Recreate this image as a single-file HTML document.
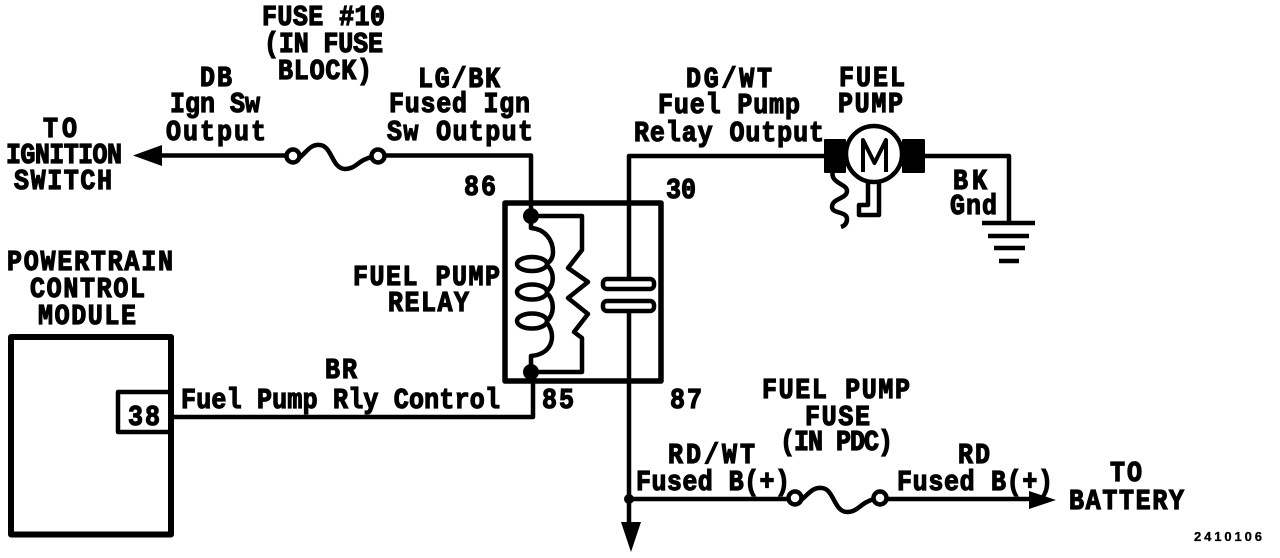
<!DOCTYPE html>
<html><head><meta charset="utf-8"><style>
html,body{margin:0;padding:0;background:#fff;width:1280px;height:558px;overflow:hidden}
svg{display:block}
text{font-family:"Liberation Mono",monospace;font-weight:bold;font-size:25px;fill:#000;stroke:#000;stroke-width:1.1px}
.w{fill:none;stroke:#000;stroke-width:4.5;stroke-linejoin:round}
</style></head><body>
<svg width="1280" height="558" viewBox="0 0 1280 558" xmlns="http://www.w3.org/2000/svg">
<rect width="1280" height="558" fill="#fff"/>
<!-- wires -->
<path class="w" d="M160 155.500H288M384 155.500H531V216"/>
<path class="w" d="M629 279V156H830"/>
<path class="w" d="M629 312V525M629 499H788M886 499H1032"/>
<path class="w" d="M920 156H1009V223"/>
<path class="w" d="M171 417H533V372"/>
<!-- arrows -->
<path d="M133 155.500L162 145V166Z"/>
<path d="M1056 500L1029 491V509Z"/>
<path d="M631 552L621 522H641Z"/>
<circle cx="629" cy="499" r="5"/>
<!-- fuses -->
<circle class="w" cx="293" cy="156" r="6.500"/>
<circle class="w" cx="378" cy="156" r="6.500"/>
<path class="w" d="M299 158C307 152 310 144 320 145C332 146 332 169 345 169C356 169 358 160 372 157"/>
<circle class="w" cx="795" cy="498" r="6.500"/>
<circle class="w" cx="880" cy="498" r="6.500"/>
<path class="w" d="M801 500C809 494 812 487 822 488C834 489 834 512 847 512C858 512 860 503 874 499"/>
<!-- relay -->
<rect x="505" y="203" width="156" height="178" class="w" style="stroke-width:5.500"/>
<circle cx="531" cy="216" r="8"/>
<circle cx="531" cy="372" r="8"/>
<path class="w" d="M531 216H582V250L568 268L588 282L568 298L588 314L574 332L582 338V372H531"/>
<path class="w" d="M531 216V228C545 229 553 240 553 252C553 258 550 262 546 264"/>
<ellipse class="w" cx="532" cy="264" rx="15" ry="7"/>
<path class="w" d="M546 264C555 272 555 285 546 292"/>
<ellipse class="w" cx="532" cy="292" rx="15" ry="7.500"/>
<path class="w" d="M546 292C555 300 555 314 546 322"/>
<ellipse class="w" cx="532" cy="321" rx="15" ry="7.500"/>
<path class="w" d="M546 322C556 332 555 354 531 356V372"/>
<rect class="w" x="603" y="279" width="51" height="10" rx="4"/>
<rect class="w" x="603" y="301" width="51" height="10" rx="4"/>
<!-- motor -->
<path class="w" d="M868 180V205H859V215H879V180"/>
<path class="w" d="M833 170C829 184 847 183 847 191C847 199 832 198 832 207C832 214 847 211 847 219C847 224 844 226 841 227"/>
<rect x="824" y="139" width="22" height="34" rx="1"/>
<rect x="902" y="139" width="23" height="34" rx="1"/>
<circle class="w" cx="874" cy="154" r="28" style="fill:#fff"/>
<path class="w" d="M863 172V140L874.500 163L886 140V172" style="stroke-width:4"/>
<!-- ground -->
<path class="w" d="M982 223H1035M988 236H1029M994 248H1025M999 261H1019"/>
<!-- PCM -->
<path class="w" d="M11 337V534.500H171V337H11Z" style="stroke-width:6"/>
<rect class="w" x="118" y="392" width="53" height="40"/>
<!-- labels -->
<g>
<text x="262" y="0" transform="translate(0,25) scale(1,1.15)" textLength="123">FUSE #10</text>
<text x="264" y="0" transform="translate(0,52) scale(1,1.15)" textLength="119">(IN FUSE</text>
<text x="278" y="0" transform="translate(0,79) scale(1,1.15)" textLength="94">BLOCK)</text>
<text x="200" y="0" transform="translate(0,86) scale(1,1.15)" textLength="32">DB</text>
<text x="170" y="0" transform="translate(0,112) scale(1,1.15)" textLength="90">Ign Sw</text>
<text x="166" y="0" transform="translate(0,140) scale(1,1.15)" textLength="100">Output</text>
<text x="418" y="0" transform="translate(0,87) scale(1,1.15)" textLength="82">LG/BK</text>
<text x="389" y="0" transform="translate(0,112) scale(1,1.15)" textLength="141">Fused Ign</text>
<text x="387" y="0" transform="translate(0,140) scale(1,1.15)" textLength="146">Sw Output</text>
<text x="43" y="0" transform="translate(0,137) scale(1,1.15)" textLength="34">TO</text>
<text x="6" y="0" transform="translate(0,163) scale(1,1.15)" textLength="116">IGNITION</text>
<text x="14" y="0" transform="translate(0,189) scale(1,1.15)" textLength="98">SWITCH</text>
<text x="464" y="0" transform="translate(0,195) scale(1,1.15)" textLength="32">86</text>
<text x="686" y="0" transform="translate(0,87) scale(1,1.15)" textLength="86">DG/WT</text>
<text x="658" y="0" transform="translate(0,113) scale(1,1.15)" textLength="142">Fuel Pump</text>
<text x="634" y="0" transform="translate(0,141) scale(1,1.15)" textLength="190">Relay Output</text>
<text x="839" y="0" transform="translate(0,86) scale(1,1.15)" textLength="66">FUEL</text>
<text x="838" y="0" transform="translate(0,112) scale(1,1.15)" textLength="65">PUMP</text>
<text x="666" y="0" transform="translate(0,198) scale(1,1.15)" textLength="30">30</text>
<text x="953" y="0" transform="translate(0,189) scale(1,1.15)" textLength="34">BK</text>
<text x="950" y="0" transform="translate(0,214) scale(1,1.15)" textLength="47">Gnd</text>
<text x="7" y="0" transform="translate(0,270) scale(1,1.15)" textLength="166">POWERTRAIN</text>
<text x="30" y="0" transform="translate(0,297) scale(1,1.15)" textLength="115">CONTROL</text>
<text x="38" y="0" transform="translate(0,324) scale(1,1.15)" textLength="98">MODULE</text>
<text x="353" y="0" transform="translate(0,285) scale(1,1.15)" textLength="147">FUEL PUMP</text>
<text x="388" y="0" transform="translate(0,311) scale(1,1.15)" textLength="81">RELAY</text>
<text x="325" y="0" transform="translate(0,378) scale(1,1.15)" textLength="32">BR</text>
<text x="181" y="0" transform="translate(0,408) scale(1,1.15)" textLength="319">Fuel Pump Rly Control</text>
<text x="128" y="0" transform="translate(0,425) scale(1,1.15)" textLength="32">38</text>
<text x="542" y="0" transform="translate(0,408) scale(1,1.15)" textLength="32">85</text>
<text x="670" y="0" transform="translate(0,408) scale(1,1.15)" textLength="32">87</text>
<text x="762" y="0" transform="translate(0,398) scale(1,1.15)" textLength="148">FUEL PUMP</text>
<text x="805" y="0" transform="translate(0,425) scale(1,1.15)" textLength="65">FUSE</text>
<text x="780" y="0" transform="translate(0,450) scale(1,1.15)" textLength="113">(IN PDC)</text>
<text x="668" y="0" transform="translate(0,463) scale(1,1.15)" textLength="87">RD/WT</text>
<text x="636" y="0" transform="translate(0,490) scale(1,1.15)" textLength="154">Fused B(+)</text>
<text x="958" y="0" transform="translate(0,463) scale(1,1.15)" textLength="32">RD</text>
<text x="897" y="0" transform="translate(0,490) scale(1,1.15)" textLength="156">Fused B(+)</text>
<text x="1110" y="0" transform="translate(0,481) scale(1,1.15)" textLength="32">TO</text>
<text x="1069" y="0" transform="translate(0,509) scale(1,1.15)" textLength="115">BATTERY</text>
</g>
<text x="1194" y="541" textLength="68" style="font-family:'Liberation Sans',sans-serif;font-size:13px;stroke-width:.3px">2410106</text>
</svg>
</body></html>
